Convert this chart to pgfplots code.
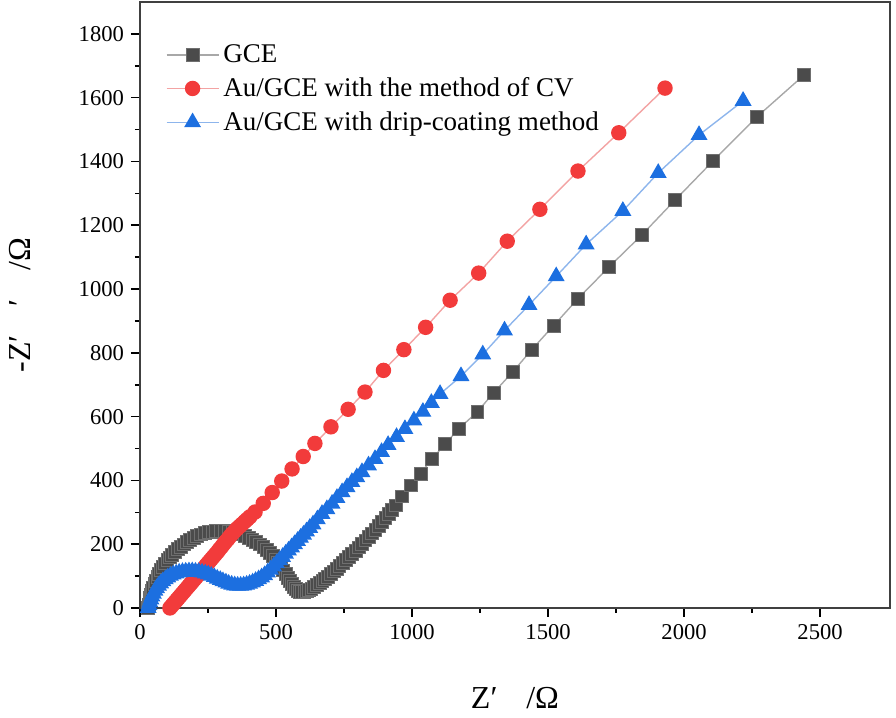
\documentclass[border=0pt]{standalone}
\usepackage{fontspec}
\setmainfont{Liberation Serif}
\usepackage{pgfplots}
\pgfplotsset{compat=1.18}
\definecolor{cblk}{HTML}{4B4B4B}
\definecolor{cblkl}{HTML}{A8A8A8}
\definecolor{cred}{HTML}{F23B3B}
\definecolor{credl}{HTML}{F3A3A3}
\definecolor{cblu}{HTML}{1C6FE0}
\definecolor{cblul}{HTML}{8DB5EC}
\begin{document}
\begin{tikzpicture}
\path[use as bounding box] (-70pt,-55pt) rectangle (378pt,304pt);
\begin{axis}[at={(0,0)}, anchor=south west,
  width=375pt, height=303pt, scale only axis,
  xmin=0, xmax=2757, ymin=0, ymax=1900,
  xtick={0,500,...,2500}, minor x tick num=1,
  ytick={0,200,...,1800}, minor y tick num=1,
  tick align=outside, tick pos=left,
  major tick length=4.5pt, minor tick length=2.5pt,
  axis line style={line width=1.1pt, black!75},
  every tick/.style={line width=0.8pt, black},
  ticklabel style={font=\fontsize{11.3}{13}\selectfont},
  /pgf/number format/assume math mode=true,
  /pgf/number format/set thousands separator={},
  xlabel={Z′\hspace{0.9em}/Ω},
  ylabel={-Z′\hspace{0.9em}′\hspace{0.9em}/Ω},
  label style={font=\fontsize{16}{18}\selectfont},
  x label style={at={(axis description cs:0.5,0)}, anchor=center, yshift=-45pt},
  y label style={at={(axis description cs:0,0.5)}, anchor=center, yshift=60pt},
  legend style={at={(axis description cs:0.034,0.937)}, anchor=north west, draw=none, fill=none,
    font=\fontsize{13.5}{16}\selectfont, row sep=2pt, inner sep=0pt,
    /tikz/every even column/.append style={column sep=3pt}},
  legend cell align=left,
  legend image code/.code={\draw[mark repeat=2,mark phase=2,#1] plot coordinates {(0pt,0pt) (13pt,0pt) (26pt,0pt)};},
]
\addplot[color=cblkl, line width=0.7pt, mark=square*, mark size=3.2pt, mark options={fill=cblk, draw=cblk!80, line width=0.3pt}] coordinates {
(30,0) (32,10) (34,20) (37,31) (40,42) (44,53) (48,64) (53,75) (58,86) (64,97) (70,108) (77,119) (84,130) (92,140) (100,150) (109,159) (118,168) (128,177) (138,185) (149,193) (160,200) (172,207) (184,214) (197,220) (210,226) (224,231) (238,235) (252,238) (266,240) (280,241) (295,242) (310,241) (325,240) (340,238) (355,235) (370,231) (385,226) (399,220) (413,214) (427,207) (440,200) (453,192) (465,183) (477,173) (488,163) (498,152) (508,141) (517,130) (526,118) (535,106) (543,95) (551,85) (558,75) (566,67) (573,60) (580,55) (588,52) (596,51) (604,51) (612,53) (620,56) (630,61) (640,66) (650,72) (660,78) (670,85) (680,92) (690,99) (700,107) (711,115) (722,123) (733,132) (745,141) (756,150) (768,160) (780,170) (792,180) (804,190) (816,201) (828,212) (840,223) (852,234) (865,246) (877,258) (890,271) (902,283) (915,296) (927,309) (940,322) (963,350) (995,385) (1031,422) (1074,467) (1121,514) (1172,562) (1240,615) (1300,675) (1370,740) (1440,810) (1520,885) (1610,970) (1724,1069) (1845,1170) (1967,1279) (2107,1402) (2268,1540) (2441,1671)
};
\addlegendentry{GCE}
\addplot[color=credl, line width=0.7pt, mark=*, mark size=3.5pt, mark options={fill=cred, draw=cred}] coordinates {
(110,0) (116,6) (122,12) (128,18) (135,25) (141,31) (148,38) (154,44) (161,51) (167,57) (174,64) (180,70) (187,77) (193,83) (200,90) (207,97) (214,104) (221,111) (228,118) (235,125) (242,133) (249,140) (256,147) (263,154) (270,161) (277,168) (285,176) (292,184) (300,192) (307,200) (315,208) (323,216) (331,225) (339,233) (348,241) (357,249) (366,256) (375,263) (385,271) (394,278) (404,286) (423,301) (453,328) (486,362) (521,398) (559,436) (600,475) (643,516) (702,568) (765,623) (827,677) (895,745) (970,810) (1050,880) (1140,965) (1245,1050) (1350,1150) (1470,1250) (1610,1370) (1760,1490) (1930,1630)
};
\addlegendentry{Au/GCE with the method of CV}
\addplot[color=cblul, line width=0.7pt, mark=triangle*, mark size=4.2pt, mark options={fill=cblu, draw=cblu}] coordinates {
(30,0) (33,9) (36,18) (40,27) (44,36) (49,45) (55,54) (61,62) (68,70) (76,77) (84,84) (93,90) (102,96) (112,101) (122,105) (133,108) (144,111) (156,113) (168,114) (180,115) (192,115) (204,114) (216,113) (228,111) (240,108) (251,105) (262,101) (273,97) (284,92) (295,88) (305,84) (316,80) (326,76) (337,73) (348,71) (359,70) (370,70) (381,71) (392,73) (403,76) (414,80) (425,85) (436,90) (447,96) (458,103) (469,111) (480,120) (491,130) (502,140) (513,150) (524,160) (535,170) (546,180) (557,190) (568,200) (579,210) (590,220) (601,230) (612,240) (624,251) (636,262) (652,278) (669,295) (687,310) (706,327) (724,345) (743,363) (761,379) (779,395) (797,410) (816,426) (840,447) (864,467) (888,489) (912,511) (943,536) (974,561) (1007,588) (1040,615) (1071,643) (1103,671) (1180,727) (1260,795) (1340,870) (1430,950) (1530,1040) (1640,1140) (1775,1245) (1905,1364) (2055,1483) (2217,1590)
};
\addlegendentry{Au/GCE with drip-coating method}
\end{axis}
\end{tikzpicture}
\end{document}
